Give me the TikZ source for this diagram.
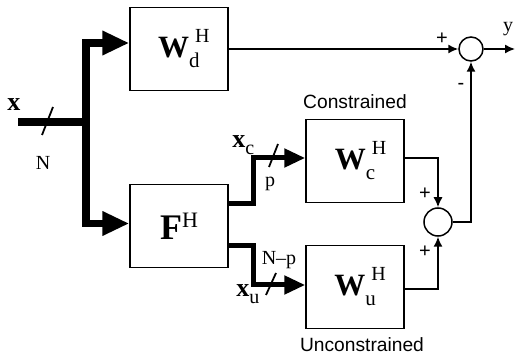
\documentclass[tikz,border=0pt]{standalone}
\usepackage{fontspec}
\setmainfont{Liberation Serif}
\newfontfamily\tagsans{Liberation Sans}
\usetikzlibrary{arrows.meta, positioning}
\newcommand{\blklabel}[2]{\textbf{W}\rlap{\hspace{3pt}\raisebox{7.5pt}{\fontsize{10}{10}\selectfont H}}\raisebox{-5pt}{\fontsize{10.5}{10}\selectfont #2}\hspace{5.2pt}}
\newcommand{\sublabel}[1]{\textbf{x}\raisebox{-3.5pt}{\fontsize{10}{10}\selectfont #1}}
\tikzset{
  blockbox/.style={
    rectangle,
    draw=black,
    line width=0.75pt,
    minimum width=49pt,
    minimum height=41.5pt,
    inner sep=0pt,
    font=\fontsize{15.5}{17}\selectfont
  },
  sumnode/.style={circle, draw=black, line width=0.75pt, inner sep=0pt},
  sigarrow/.style={-{Latex[length=5pt,width=4.5pt]}, line width=0.75pt},
  busline/.style={line width=3.75pt},
  busarrow/.style={-{Triangle[length=13.5pt,width=11.5pt]}, line width=3.75pt},
  brancharrow/.style={-{Triangle[length=10.5pt,width=9pt]}, line width=2.5pt},
  busslash/.style={line width=0.9pt},
  tagtext/.style={font=\tagsans\fontsize{9.6}{11}\selectfont, inner sep=0pt},
  signtext/.style={font=\tagsans\fontsize{10}{11}\selectfont, inner sep=0pt},
  vartext/.style={font=\fontsize{10}{11}\selectfont, inner sep=0pt}
}

\begin{document}
\begin{tikzpicture}[x=0.5pt, y=-0.5pt]
  \useasboundingbox (0,0) rectangle (515,358);

  % blocks
  \node[blockbox] (wd) at (179,49) {\blklabel{W}{d}};
  \node[blockbox, below=46.25pt of wd] (fh) {\fontsize{18}{20}\selectfont\textbf{F}\raisebox{6pt}{\fontsize{11}{11}\selectfont H}};
  \node[blockbox] (wc) at (355,161) {\blklabel{W}{c}};
  \node[blockbox, below=20.75pt of wc] (wu) {\blklabel{W}{u}};
  \node[tagtext, above=5pt of wc] (conlbl) {Constrained};
  \node[tagtext, below=4pt of wu, xshift=3.5pt] (unconlbl) {Unconstrained};

  % summing junctions
  \node[sumnode, minimum size=12pt] (sumt) at (471,49) {};
  \node[sumnode, minimum size=14pt] (sumc) at (438,222) {};

  \coordinate (xin) at (18,122);
  \coordinate (split) at (86,122);
  \coordinate (yout) at (515,49);

  % input bus
  \draw[busline] (xin) -- (split);
  \draw[busarrow] (split) |- ([yshift=3pt]wd.west);
  \draw[busarrow] (split) |- ([yshift=1.25pt]fh.west);
  \draw[busslash] (42,135) -- (53,107);

  % outputs of F
  \draw[brancharrow] ([yshift=11.25pt]fh.east) -- ++(24.5,0) |- ([yshift=1.5pt]wc.west);
  \draw[brancharrow] ([yshift=-9.75pt]fh.east) -- ++(24.5,0) |- ([yshift=1pt]wu.west);
  \draw[busslash] (269,167) -- (278,144);
  \draw[busslash] (266,295) -- (276,273);

  % signal lines
  \draw[sigarrow] (wd.east) -- (sumt.west);
  \draw[sigarrow] ([yshift=1.5pt]wc.east) -| (sumc.north);
  \draw[sigarrow] ([yshift=-1pt]wu.east) -| (sumc.south);
  \draw[sigarrow] (sumc.east) -| (sumt.south);
  \draw[sigarrow] (sumt.east) -- (yout);

  % labels
  \node[vartext, font=\fontsize{13}{13}\selectfont] (xlbl) at (14,105) {\textbf{x}};
  \node[vartext] (nlbl) at (43,163) {N};
  \node[vartext, anchor=base west, font=\fontsize{13}{13}\selectfont] (xclbl) at (232,148) {\sublabel{c}};
  \node[vartext, anchor=base] (plbl) at (270,187) {p};
  \node[vartext, anchor=base] (nplbl) at (279,265) {N--p};
  \node[vartext, anchor=base west, font=\fontsize{13}{13}\selectfont] (xulbl) at (236,297) {\sublabel{u}};
  \node[vartext, anchor=base] (ylbl) at (508,32) {y};
  \node[signtext] (plust) at (442,39) {+};
  \node[signtext] (minust) at (461,86) {-};
  \node[signtext] (plusc) at (425,194) {+};
  \node[signtext] (plusu) at (425,252) {+};
\end{tikzpicture}
\end{document}
